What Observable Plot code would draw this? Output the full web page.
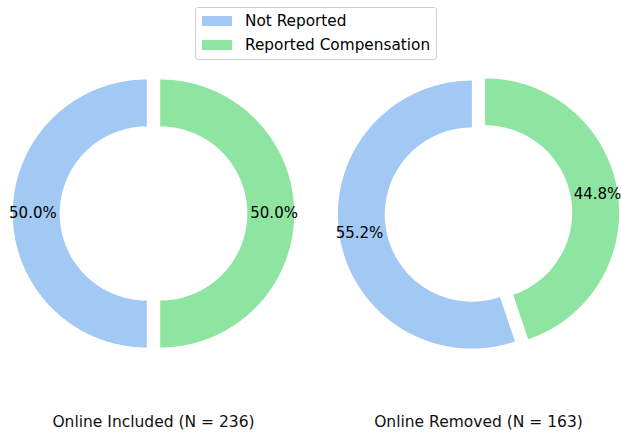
<!DOCTYPE html>
<html>
<head>
<meta charset="utf-8">
<script src="https://cdn.jsdelivr.net/npm/d3@7"></script>
<script src="https://cdn.jsdelivr.net/npm/@observablehq/plot@0.6"></script>
<style>
  body { margin: 0; background: #fff; }
  #wrap { position: relative; width: 621px; height: 437px; font-family: "DejaVu Sans", sans-serif; }
  #chart { position: absolute; left: 0; top: 0; }
  #legend { position: absolute; left: 195px; top: 7px; width: 242px; height: 53px;
            border: 1px solid #d0d0d0; border-radius: 3px; background: rgba(255,255,255,0.8);
            box-sizing: border-box; z-index: 2; }
  .item { position: absolute; left: 6px; height: 16px; display: flex; align-items: center;
          font-size: 15.3px; color: #000; white-space: nowrap; }
  .sw { width: 30px; height: 10px; margin-right: 13px; }
</style>
</head>
<body>
<div id="wrap">
  <div id="chart"></div>
  <div id="legend"></div>
</div>
<script>
// ---- data ----
const groups = ["Online Included", "Online Removed"];
const totals = [236, 163];
const categories = ["Not Reported", "Reported Compensation"];
const notReported = [118, 90];
const reported = [118, 73];
const colors = ["#a1c9f4", "#8de5a1"];

// ---- layout (pixels) ----
const W = 621, H = 437;
const unit = 134;          // pixels per pie radius
const cx0 = 153, cyPx = 213, gapPx = 325;
const inner = 0.65, explode = 0.05, pctDist = 0.85;
const labelYpx = 422;

const spacing = gapPx / unit;
const labelY = (cyPx - labelYpx) / unit;

// build wedge polygons from data (matplotlib-style: start at 90deg, counterclockwise)
const wedgePts = [];
const pctLabels = [];
const titles = [];
groups.forEach((g, gi) => {
  const vals = [notReported[gi], reported[gi]];
  const total = d3.sum(vals);
  const ccx = gi * spacing;
  let start = 90;
  vals.forEach((v, ci) => {
    const sweep = 360 * v / total;
    const end = start + sweep;
    const mid = (start + end) / 2 * Math.PI / 180;
    const ox = ccx + explode * Math.cos(mid);
    const oy = explode * Math.sin(mid);
    const id = g + "|" + categories[ci];
    const n = Math.max(8, Math.ceil(sweep * 2));
    for (let k = 0; k <= n; k++) {
      const a = (start + sweep * k / n) * Math.PI / 180;
      wedgePts.push({id, cat: categories[ci], x: ox + Math.cos(a), y: oy + Math.sin(a)});
    }
    for (let k = n; k >= 0; k--) {
      const a = (start + sweep * k / n) * Math.PI / 180;
      wedgePts.push({id, cat: categories[ci], x: ox + inner * Math.cos(a), y: oy + inner * Math.sin(a)});
    }
    pctLabels.push({
      x: ox + pctDist * Math.cos(mid),
      y: oy + pctDist * Math.sin(mid),
      text: (100 * v / total).toFixed(1) + "%"
    });
    start = end;
  });
  titles.push({x: ccx, y: labelY, text: `${g} (N = ${totals[gi]})`});
});

const chart = Plot.plot({
  width: W, height: H,
  margin: 0,
  x: {domain: [-cx0 / unit, (W - cx0) / unit], axis: null},
  y: {domain: [(cyPx - H) / unit, cyPx / unit], axis: null},
  color: {domain: categories, range: colors},
  style: {fontFamily: "DejaVu Sans, sans-serif", background: "white"},
  marks: [
    Plot.line(wedgePts, {x: "x", y: "y", z: "id", fill: "cat", stroke: "none"}),
    Plot.text(pctLabels, {x: "x", y: "y", text: "text", fontSize: 15, fill: "black"}),
    Plot.text(titles, {x: "x", y: "y", text: "text", fontSize: 15.5, fill: "#111"})
  ]
});
document.getElementById("chart").appendChild(chart);

// legend
const leg = document.getElementById("legend");
categories.forEach((c, i) => {
  const it = document.createElement("div");
  it.className = "item";
  it.style.top = (5 + i * 23.5) + "px";
  const sw = document.createElement("span");
  sw.className = "sw";
  sw.style.background = colors[i];
  it.appendChild(sw);
  it.appendChild(document.createTextNode(c));
  leg.appendChild(it);
});
</script>
</body>
</html>
